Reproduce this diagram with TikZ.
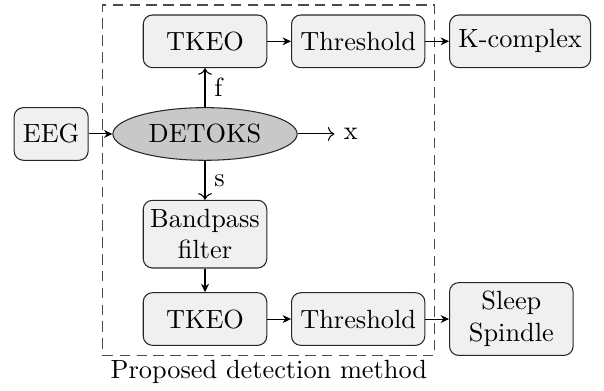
\documentclass[tikz,border=0pt]{standalone}
\usepackage{tikz}
\usetikzlibrary{arrows.meta,positioning,fit,shapes.geometric}
\definecolor{boxfill}{HTML}{F0F0F0}
\definecolor{ellfill}{HTML}{C8C8C8}
\definecolor{frame}{HTML}{4A4A4A}
\tikzset{
  block/.style={draw=black!85,rounded corners=3.5pt,fill=boxfill,minimum height=20pt,
                minimum width=1.65cm,align=center},
  decomp/.style={ellipse,draw=black!85,fill=ellfill,minimum height=20pt,
                 minimum width=70pt,inner sep=1pt},
  arrow/.style={-{Stealth[length=3.2pt,width=3pt]},draw=black},
  sig/.style={-{To[length=2.5pt]},draw=black}
}
\begin{document}
\begin{tikzpicture}[node distance=9pt]
\useasboundingbox (-77.9pt,-97.3pt) rectangle (151.6pt,50.9pt);
\node[decomp] (detoks) {DETOKS};
\node[block,minimum width=0pt,left=of detoks] (eeg) {EEG};
\node[block,above=14.8pt of detoks] (tkeoa) {TKEO};
\node[block,right=of tkeoa] (thra) {Threshold};
\node[block,right=of thra] (kcomp) {K-complex};
\node[block,inner xsep=2.4pt,below=14.8pt of detoks] (bpf) {Bandpass\\filter};
\node[block,below=of bpf] (tkeob) {TKEO};
\node[block,right=of tkeob] (thrb) {Threshold};
\node[block,right=of thrb] (spindle) {Sleep\\Spindle};
\node[right=14pt of detoks] (xout) {x};
% dashed frame around the detector
\node[draw=frame,dash pattern=on 4pt off 2.4pt,fit=(detoks)(tkeoa)(thra)(tkeob)(thrb),inner sep=3.6pt] (method) {};
\node[below=-2pt of method] {Proposed detection method};
\draw[arrow] (eeg)--(detoks);
\draw[sig] (detoks)--(tkeoa) node[midway,right] {f};
\draw[sig] (detoks)--(bpf) node[midway,right] {s};
\draw[sig] (detoks)--(xout);
\draw[arrow] (tkeoa)--(thra);
\draw[arrow] (thra)--(kcomp);
\draw[arrow] (bpf)--(tkeob);
\draw[arrow] (tkeob)--(thrb);
\draw[arrow] (thrb)--(spindle);
\end{tikzpicture}
\end{document}
